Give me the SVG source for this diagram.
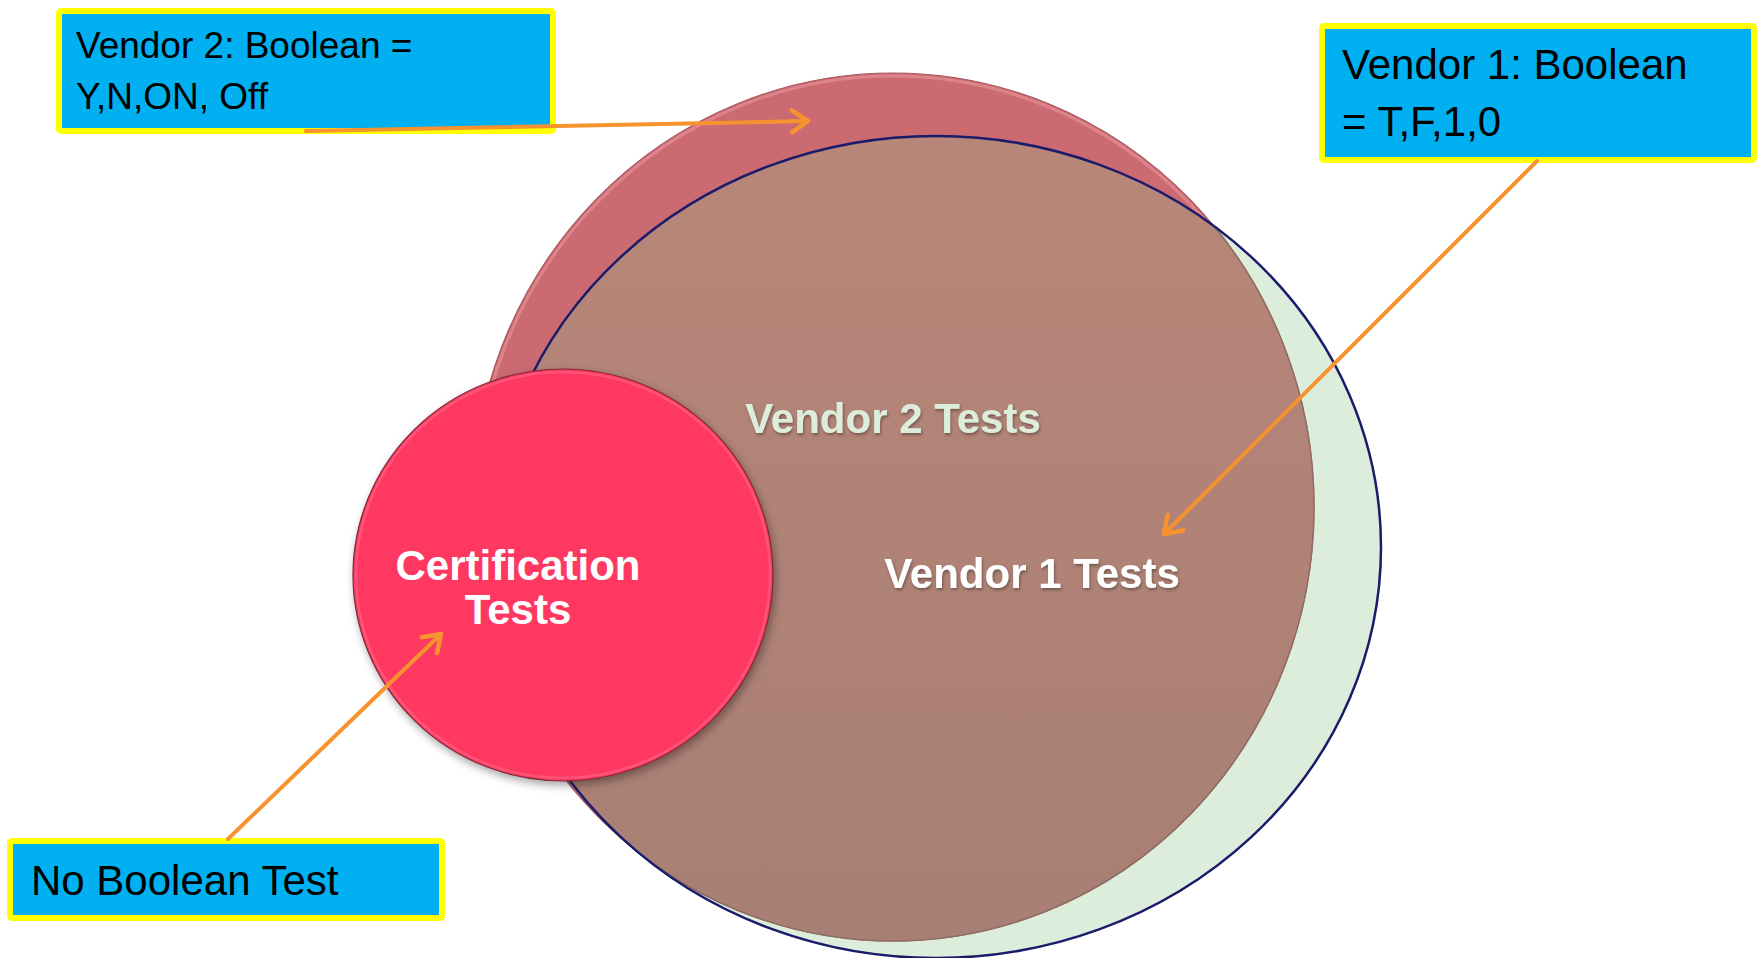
<svg xmlns="http://www.w3.org/2000/svg" width="1758" height="958" viewBox="0 0 1758 958">
  <style>
    .box { fill: #00B0F0; stroke: #FFFF00; stroke-width: 6; }
    .boxtxt { font-family: "Liberation Sans", Arial, sans-serif; fill: #000000; }
    .lbl { font-family: "Liberation Sans", Arial, sans-serif; font-weight: bold; font-size: 42px; }
    .conn { stroke: #F7932F; stroke-width: 4; fill: none; stroke-linecap: round; }
  </style>
  <defs>
    <marker id="chev" markerUnits="userSpaceOnUse" markerWidth="30" markerHeight="30" viewBox="0 0 30 30" refX="24" refY="15" orient="auto">
      <path d="M8,4 L24,15 L8,26" fill="none" stroke="#F7932F" stroke-width="4.5" stroke-linecap="round" stroke-linejoin="round"/>
    </marker>
    <linearGradient id="brown" x1="0" y1="0" x2="0" y2="1">
      <stop offset="0" stop-color="#B98779"/>
      <stop offset="1" stop-color="#A87F74"/>
    </linearGradient>
    <clipPath id="greenClip">
      <ellipse cx="936" cy="547" rx="445" ry="411"/>
    </clipPath>
    <filter id="shadow" x="-20%" y="-20%" width="140%" height="140%">
      <feDropShadow dx="2" dy="4" stdDeviation="4" flood-color="#000000" flood-opacity="0.35"/>
    </filter>
    <filter id="tshadow" x="-10%" y="-30%" width="120%" height="160%">
      <feDropShadow dx="1" dy="2" stdDeviation="1.5" flood-color="#000000" flood-opacity="0.35"/>
    </filter>
  </defs>

  <rect x="0" y="0" width="1758" height="958" fill="#FFFFFF"/>

  <g id="node-vendor1-circle">
    <ellipse cx="936" cy="547" rx="445" ry="411" fill="#DCEEDB"/>
  </g>

  <g id="node-vendor2-circle">
    <ellipse cx="893" cy="507" rx="421" ry="434" fill="#CC6A72" stroke="#A5575E" stroke-width="1.2"/>
    <ellipse cx="893" cy="507" rx="418" ry="431" fill="none" stroke="#E8959B" stroke-width="3" opacity="0.6"/>
    <g clip-path="url(#greenClip)">
      <ellipse cx="893" cy="507" rx="421" ry="434" fill="url(#brown)" stroke="#8E6D64" stroke-width="1.5"/>
    </g>
  </g>

  <g id="node-vendor1-outline">
    <ellipse cx="936" cy="547" rx="445" ry="411" fill="none" stroke="#1B1B6B" stroke-width="2.5"/>
  </g>

  <g id="labels">
    <text class="lbl" x="893" y="433" text-anchor="middle" fill="#DCEEDB" filter="url(#tshadow)">Vendor 2 Tests</text>
    <text class="lbl" x="1032" y="588" text-anchor="middle" fill="#FFFFFF" filter="url(#tshadow)">Vendor 1 Tests</text>
  </g>

  <g id="node-cert">
    <ellipse cx="563" cy="575" rx="210" ry="206" fill="#FE3761" stroke="#7A2A38" stroke-width="1.2" filter="url(#shadow)"/>
    <ellipse cx="563" cy="575" rx="207" ry="203" fill="none" stroke="#FF6F8E" stroke-width="2.5" opacity="0.5"/>
    <text class="lbl" x="518" y="580" text-anchor="middle" fill="#FFFFFF">Certification</text>
    <text class="lbl" x="518" y="624" text-anchor="middle" fill="#FFFFFF">Tests</text>
  </g>

  <g id="node-box-v2">
    <rect class="box" x="59" y="11" width="494" height="120" rx="2"/>
    <text class="boxtxt" x="76" y="58" font-size="37">Vendor 2: Boolean =</text>
    <text class="boxtxt" x="76" y="109" font-size="37">Y,N,ON, Off</text>
  </g>

  <g id="node-box-v1">
    <rect class="box" x="1322" y="26" width="432" height="134" rx="2"/>
    <text class="boxtxt" x="1342" y="79" font-size="42">Vendor 1: Boolean</text>
    <text class="boxtxt" x="1342" y="136" font-size="42">= T,F,1,0</text>
  </g>

  <g id="node-box-nobool">
    <rect class="box" x="10" y="841" width="432" height="77" rx="2"/>
    <text class="boxtxt" x="31" y="895" font-size="42">No Boolean Test</text>
  </g>

  <g id="connectors">
    <line class="conn" x1="306" y1="131" x2="808" y2="121" marker-end="url(#chev)"/>
    <line class="conn" x1="1537" y1="161" x2="1164" y2="534" marker-end="url(#chev)"/>
    <line class="conn" x1="228" y1="839" x2="441" y2="634" marker-end="url(#chev)"/>
  </g>
</svg>
